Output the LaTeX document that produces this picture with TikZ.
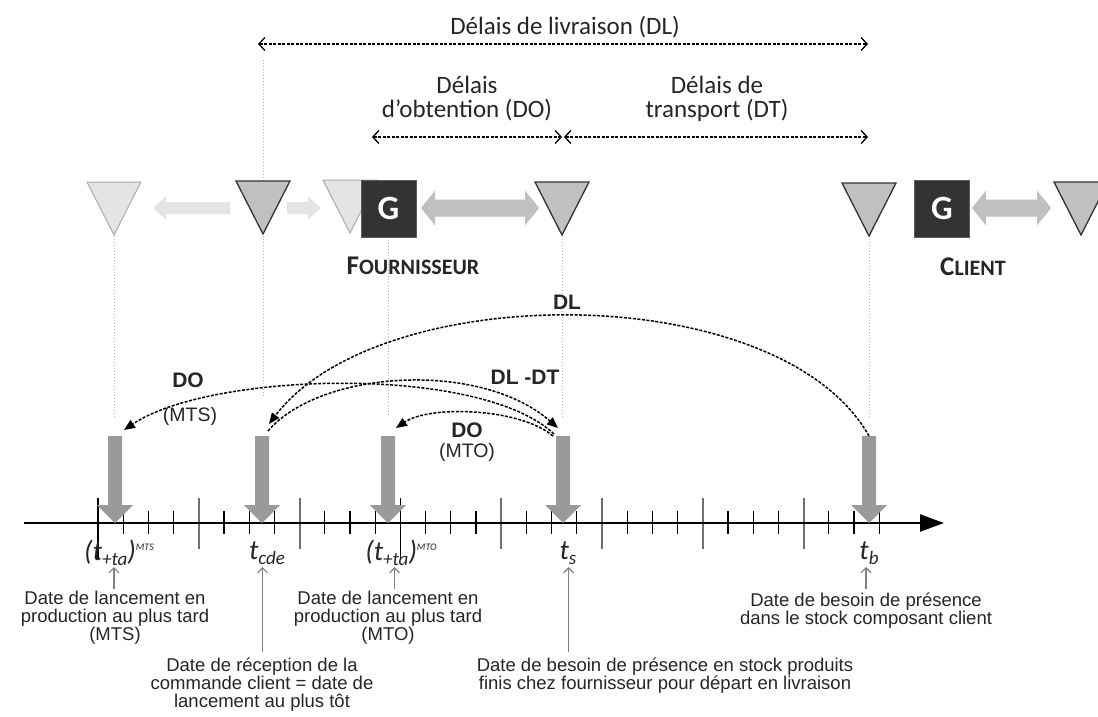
\documentclass[tikz,border=0pt]{standalone}
\usepackage{fontspec}
\setmainfont{Liberation Sans}
\newfontfamily\calib{Carlito}
\usetikzlibrary{arrows.meta}
\definecolor{lightgr}{HTML}{E4E4E4}
\definecolor{lightedge}{HTML}{ABABAB}
\definecolor{midgr}{HTML}{C0C0C0}
\definecolor{darkbox}{HTML}{333333}
\definecolor{bigarr}{HTML}{9A9A9A}
\definecolor{dotgr}{HTML}{B5B5B5}
\definecolor{tickgr}{HTML}{707070}
\definecolor{txt}{HTML}{262626}
\newcommand{\bigdownarrow}[1]{\fill[bigarr] ({#1-7},436) -- ({#1+7},436) -- ({#1+7},505) -- ({#1+18},505) -- (#1,523) -- ({#1-18},505) -- ({#1-7},505) -- cycle;}
\newcommand{\invtri}[3]{\filldraw[#1] ({#2-27},#3) -- ({#2+27},#3) -- (#2,{#3+53}) -- cycle;}
\newcommand{\subtt}[1]{\raisebox{-4.5pt}{\fontsize{19}{19}\selectfont #1}}
\newcommand{\suptt}[1]{\raisebox{10pt}{\fontsize{10}{10}\selectfont #1}}
\tikzset{
 dotv/.style={dotgr, line width=1pt, dash pattern=on 1.2pt off 1.8pt},
 span/.style={line width=1.5pt, dash pattern=on 3pt off 1.5pt, {Straight Barb[length=6pt,width=13pt,line width=1.3pt]}-{Straight Barb[length=6pt,width=13pt,line width=1.3pt]}},
 curv/.style={line width=1.5pt, dash pattern=on 3pt off 1.5pt, -{Triangle[length=11pt,width=9pt]}},
 toptxt/.style={font=\calib\fontsize{25}{24}\selectfont, text=txt, align=center, inner sep=0pt},
 lowtxt/.style={font=\fontsize{18.5}{18}\selectfont, text=txt, align=center, inner sep=0pt, anchor=north},
 boldlbl/.style={font=\bfseries\fontsize{21}{22}\selectfont, text=txt, inner sep=0pt},
 reglbl/.style={font=\fontsize{19.5}{22}\selectfont, text=txt, inner sep=0pt},
 gbox/.style={fill=darkbox, draw=darkbox!80!white, minimum width=55pt, minimum height=57pt, inner sep=0pt, text=white, font=\calib\bfseries\fontsize{34}{34}\selectfont},
 darktri/.style={fill=midgr, draw=black!80, line width=1.3pt, line join=miter},
 lighttri/.style={fill=lightgr, draw=lightedge, line width=1pt},
 upar/.style={gray, line width=1.2pt, -{Straight Barb[length=5pt,width=10pt]}},
 tlbl/.style={font=\calib\itshape\fontsize{28}{28}\selectfont, text=txt, inner sep=0pt},
 smallt/.style={black, line width=1.3pt},
 longt/.style={tickgr, line width=2pt},
 scaps/.style={font=\calib\bfseries, text=txt, inner sep=0pt},
}
\begin{document}
\begin{tikzpicture}[x=1pt,y=-1pt]
\useasboundingbox (0,0) rectangle (1098,717);
\clip (0,0) rectangle (1098,717);
\fill[white] (0,0) rectangle (1098,717);

% ---- top spans
\node[toptxt] (dltxt) at (565,27) {Délais de livraison (DL)};
\coordinate (dlL) at (258,44); \coordinate (dlR) at (868,44);
\draw[span] (dlL) -- (dlR);
\node[toptxt] (dotxt) at (467,99) {Délais\\d’obtention (DO)};
\node[toptxt] (dttxt) at (717,99) {Délais de\\transport (DT)};
\coordinate (doL) at (372,137); \coordinate (doR) at (562,137);
\coordinate (dtL) at (564,137); \coordinate (dtR) at (868,137);
\draw[span] (doL) -- (doR);
\draw[span] (dtL) -- (dtR);

% ---- dotted verticals
\coordinate (v2top) at (263,60); \coordinate (v2a) at (263,182);
\draw[dotv] (v2top) -- (v2a);
\draw[dotv] (114,236) -- (114,417);
\draw[dotv] (263,236) -- (263,397);
\draw[dotv] (388.5,237) -- (388.5,417);
\draw[dotv] (562,236) -- (562,417);
\draw[dotv] (869,236) -- (869,417);

% ---- triangles, arrows, boxes
\invtri{lighttri}{114}{182}
\fill[lightgr] (230,202) -- (166,202) -- (166,196.5) -- (153,208) -- (166,219.5) -- (166,214) -- (230,214) -- cycle;
\invtri{darktri}{263}{181}
\fill[lightgr] (287,202) -- (308,202) -- (308,196.5) -- (321,208) -- (308,219.5) -- (308,214) -- (287,214) -- cycle;
\invtri{lighttri}{350}{180}
\node[gbox] (G1) at (388.5,208.5) {G};
\fill[midgr] (421,208) -- (435,190.5) -- (435,199.5) -- (525,199.5) -- (525,190.5) -- (539,208) -- (525,225.5) -- (525,216.5) -- (435,216.5) -- (435,225.5) -- cycle;
\invtri{darktri}{562}{182}
\invtri{darktri}{869}{183}
\node[gbox] (G2) at (942,208.5) {G};
\fill[midgr] (972,208) -- (986,190.5) -- (986,199.5) -- (1037,199.5) -- (1037,190.5) -- (1051,208) -- (1037,225.5) -- (1037,216.5) -- (986,216.5) -- (986,225.5) -- cycle;
\invtri{darktri}{1081}{182}

\node[scaps] (four) at (413,266) {\fontsize{27}{27}\selectfont F\fontsize{22}{22}\selectfont OURNISSEUR};
\node[scaps] (cli) at (973,267) {\fontsize{27}{27}\selectfont C\fontsize{22}{22}\selectfont LIENT};

% ---- axis
\coordinate (axL) at (24,523); \coordinate (axR) at (944,523);
\foreach \k in {1,2,3,5,6,7,9,10,11,13,14,15,17,18,19,21,22,23,25,26,27,29,30,31}
  \draw[smallt] ({98+25.2*\k},511) -- ({98+25.2*\k},534);
\foreach \k in {4,8,16,20,24,28}
  \draw[longt] ({98+25.2*\k},498) -- ({98+25.2*\k},549);
\draw[black, line width=1.2pt] (98,498) -- (98,560);
\draw[black, line width=1.2pt] (400.4,498) -- (400.4,560);
\draw[line width=2.2pt, -{Triangle[length=24pt,width=17pt]}] (axL) -- (axR);

% ---- big gray arrows
\bigdownarrow{115}
\bigdownarrow{262}
\bigdownarrow{388}
\bigdownarrow{563}
\bigdownarrow{869}

% ---- curves
\coordinate (cbS) at (869,436); \coordinate (ccdeE) at (269,424);
\draw[curv] (cbS) .. controls (780,278) and (380,278) .. (ccdeE);
\coordinate (ccdeS) at (268,431); \coordinate (tsE) at (558,428);
\draw[curv] (ccdeS) .. controls (320,370) and (480,360) .. (tsE);
\coordinate (tsS1) at (554,434); \coordinate (mtsE) at (124,430);
\draw[curv] (tsS1) .. controls (480,364) and (210,372) .. (mtsE);
\coordinate (tsS2) at (553,436); \coordinate (mtoE) at (396,428);
\draw[curv] (tsS2) .. controls (520,408) and (430,405) .. (mtoE);

\node[boldlbl] (lDL) at (567,302) {DL};
\node[boldlbl] (lDLDT) at (525,377) {DL -DT};
\node[boldlbl] (lDO1) at (188,380) {DO};
\node[reglbl] (lMTS) at (190,416) {(MTS)};
\node[boldlbl] (lDO2) at (467,430) {DO};
\node[reglbl] (lMTO) at (467,452) {(MTO)};

% ---- time labels
\node[tlbl] (tmts) at (119,553) {(t\subtt{+ta})\suptt{MTS}};
\node[tlbl] (tcde) at (267,553) {t\subtt{cde}};
\node[tlbl] (tmto) at (401,553) {(t\subtt{+ta})\suptt{MTO}};
\node[tlbl] (ts) at (568,553) {t\subtt{s}};
\node[tlbl] (tb) at (869,553) {t\subtt{b}};

\draw[upar] (114,589) -- (114,567);
\draw[upar] (262.5,652) -- (262.5,567);
\draw[upar] (394.6,589) -- (394.6,567);
\draw[upar] (568.6,652) -- (568.6,567);
\draw[upar] (866,589) -- (866,567);

\node[lowtxt] (dmts) at (115,591) {Date de lancement en\\production au plus tard\\(MTS)};
\node[lowtxt] (dmto) at (388,591) {Date de lancement en\\production au plus tard\\(MTO)};
\node[lowtxt] (dtb) at (866,593) {Date de besoin de présence\\dans le stock composant client};
\node[lowtxt] (dcde) at (262,658) {Date de réception de la\\commande client = date de\\lancement au plus tôt};
\node[lowtxt] (dts) at (665,658) {Date de besoin de présence en stock produits\\finis chez fournisseur pour départ en livraison};
\end{tikzpicture}
\end{document}
